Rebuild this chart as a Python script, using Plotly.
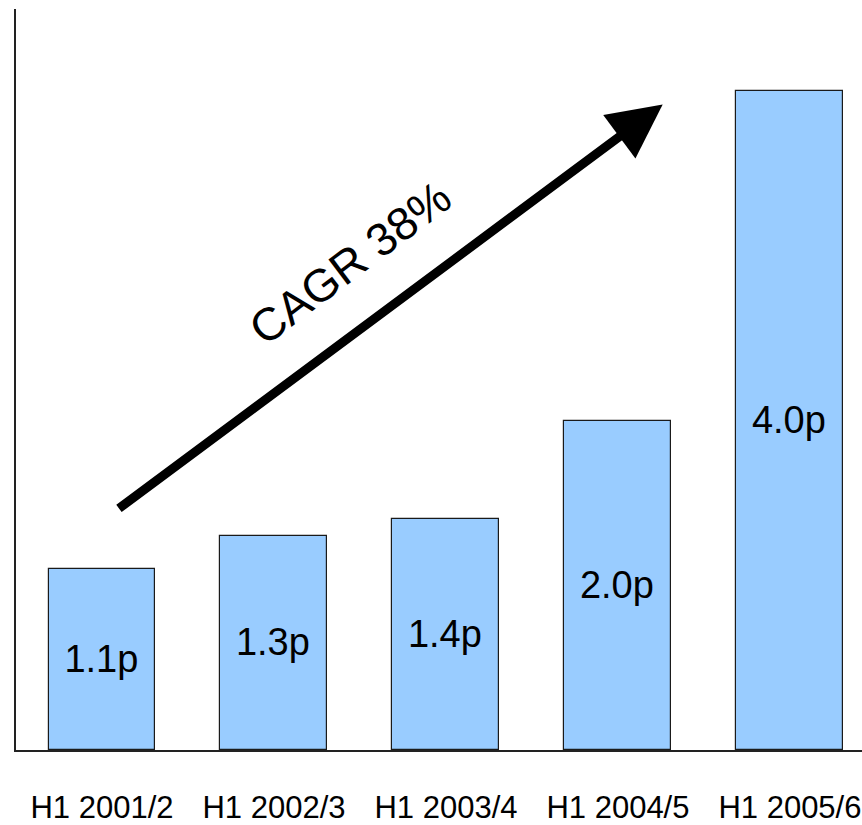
import plotly.graph_objects as go

# Interim dividend per share, first-half results
periods = ["H1 2001/2", "H1 2002/3", "H1 2003/4", "H1 2004/5", "H1 2005/6"]
dividend_p = [1.1, 1.3, 1.4, 2.0, 4.0]

# Growth arrow endpoints (category index, pence)
arrow_tail = (0.09, 1.46)
arrow_tip = (3.26, 3.92)
cagr_label = "CAGR 38%"
cagr_pos = (1.44, 2.96)

FONT = "Liberation Sans, Arial, sans-serif"

fig = go.Figure()
fig.add_trace(go.Bar(
    x=list(range(len(periods))),
    y=dividend_p,
    width=0.622,
    marker=dict(color="#99CCFF", line=dict(color="#1a1a1a", width=1.2)),
    texttemplate="%{y:.1f}p",
    textposition="inside",
    insidetextanchor="middle",
    textfont=dict(family=FONT, size=38, color="black"),
    constraintext="none",
    hoverinfo="skip",
))

fig.add_annotation(
    x=arrow_tip[0], y=arrow_tip[1], ax=arrow_tail[0], ay=arrow_tail[1],
    xref="x", yref="y", axref="x", ayref="y",
    text="", showarrow=True, arrowhead=2, arrowsize=1.2, arrowwidth=9,
    arrowcolor="black", standoff=0, startstandoff=0,
)
fig.add_annotation(
    x=cagr_pos[0], y=cagr_pos[1], xref="x", yref="y",
    text=cagr_label, showarrow=False, textangle=-37,
    font=dict(family=FONT, size=46, color="black"),
)

fig.update_layout(
    width=862, height=825,
    margin=dict(l=16, r=0, t=9, b=75),
    paper_bgcolor="white", plot_bgcolor="white",
    showlegend=False,
    bargap=0,
    font=dict(family=FONT, color="black"),
)
fig.update_xaxes(
    range=[-0.5, 4.419],
    tickmode="array", tickvals=list(range(len(periods))), ticktext=periods,
    tickfont=dict(family=FONT, size=31, color="black"),
    ticks="", ticklabelstandoff=29, ticklabeloverflow="allow",
    automargin=False,
    showline=True, linecolor="#222", linewidth=1.5,
    showgrid=False, zeroline=False,
)
fig.update_yaxes(
    range=[0, 4.5],
    showticklabels=False, ticks="", automargin=False,
    showline=True, linecolor="#222", linewidth=2,
    showgrid=False, zeroline=False,
)

fig.write_html("out.html")
